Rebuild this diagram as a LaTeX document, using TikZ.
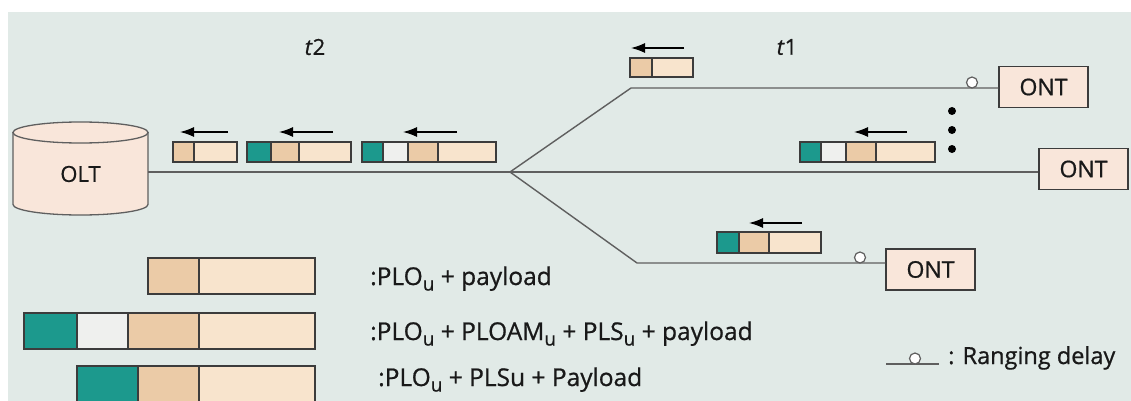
\documentclass[tikz,border=0pt]{standalone}
\usepackage{fontspec}
\setmainfont{Open Sans}[FakeBold=0.8]
\usetikzlibrary{arrows.meta}

\definecolor{bgc}{RGB}{225,234,231}
\definecolor{tealc}{RGB}{28,153,141}
\definecolor{whitec}{RGB}{239,240,238}
\definecolor{ploc}{RGB}{235,203,167}
\definecolor{payc}{RGB}{248,228,205}
\definecolor{boxc}{RGB}{249,230,218}
\definecolor{edgec}{RGB}{60,60,60}
\definecolor{linec}{RGB}{95,95,95}
\definecolor{txtc}{RGB}{25,25,25}

% lowered subscript as used in the frame labels
\newcommand\lsub[1]{\raisebox{-5.5pt}{\fontsize{19}{19}\selectfont #1}}
% one coloured field of a burst: x-left, x-right, y-top, y-bottom, colour
\newcommand\field[5]{\filldraw[cellbox,fill=#5] (#1,#3) rectangle (#2,#4);}

\begin{document}
\begin{tikzpicture}[x=1pt,y=-1pt,
  cellbox/.style={draw=edgec,line width=1.2pt},
  fiber/.style={draw=linec,line width=1.4pt},
  movearrow/.style={draw=black,line width=1.3pt,-{Latex[length=14pt,width=10pt]}},
  ontbox/.style={draw=edgec,line width=1.3pt,fill=boxc,minimum width=89pt,minimum height=41pt,
    inner sep=0pt,text=txtc,font=\fontsize{23}{23}\selectfont},
  delay/.style={circle,draw=linec,line width=1.2pt,fill=white,minimum size=11pt,inner sep=0pt},
  dotmark/.style={circle,fill=black,minimum size=8pt,inner sep=0pt},
  legend/.style={anchor=base west,inner sep=0pt,text=txtc,font=\fontsize{24.5}{24.5}\selectfont},
  tlabel/.style={text=txtc,font=\fontsize{22}{22}\selectfont}]
\useasboundingbox (0,0) rectangle (1131,401);
\clip (0,0) rectangle (1131,401);
\fill[white] (0,0) rectangle (1131,401);
\fill[bgc] (8,12) rectangle (1131,401);

% time labels
\node[tlabel] (t2) at (315,47) {\textit{t}2};
\node[tlabel] (t1) at (787,47) {\textit{t}1};

% OLT drum
\filldraw[fill=boxc,draw=linec,line width=1.3pt]
  (13,132.5) -- (13,204.5) arc[start angle=180,end angle=0,x radius=67.5,y radius=10.5]
  -- (148,132.5) -- cycle;
\filldraw[fill=boxc,draw=linec,line width=1.3pt] (80.5,132.5) ellipse[x radius=67.5,y radius=10.5];
\node[minimum width=135pt,minimum height=60pt,inner sep=0pt,text=txtc,
  font=\fontsize{22}{22}\selectfont] (olt) at (80.5,174) {OLT};

% ONTs
\node[ontbox] (ont1) at (1043.5,87) {ONT};
\node[ontbox] (ont2) at (1083.5,169) {ONT};
\node[ontbox] (ont3) at (930.5,269.5) {ONT};

% splitter and drop fibres
\coordinate (split) at (510,172);
\coordinate (bend1) at (631,88);
\coordinate (bend3) at (637,263);
\draw[fiber] (olt.east |- split) -- (split) -- (ont2.west |- split);
\draw[fiber] (split) -- (bend1) -- (bend1 -| ont1.west);
\draw[fiber] (split) -- (bend3) -- (bend3 -| ont3.west);
\node[delay] (d1) at (972,82.5) {};
\node[delay] (d3) at (860,257.5) {};

% more ONTs
\node[dotmark] (v1) at (952,111) {};
\node[dotmark] (v2) at (952,130) {};
\node[dotmark] (v3) at (952,149) {};

% bursts on the trunk
\field{173}{194}{142}{162}{ploc}
\field{194}{237}{142}{162}{payc}
\field{247}{271}{142}{162}{tealc}
\field{271}{299}{142}{162}{ploc}
\field{299}{351}{142}{162}{payc}
\field{362}{383}{142}{162}{tealc}
\field{383}{408}{142}{162}{whitec}
\field{408}{438}{142}{162}{ploc}
\field{438}{496}{142}{162}{payc}
\draw[movearrow] (228,132) -- (180,132);
\draw[movearrow] (333,132) -- (279,132);
\draw[movearrow] (457,132) -- (403,132);

% bursts on the drops
\field{630}{652}{58}{77}{ploc}
\field{652}{693}{58}{77}{payc}
\draw[movearrow] (684,48) -- (631,48);

\field{800}{821}{142}{162}{tealc}
\field{821}{846}{142}{162}{whitec}
\field{846}{876}{142}{162}{ploc}
\field{876}{935}{142}{162}{payc}
\draw[movearrow] (907,132) -- (854,132);

\field{717}{739}{232}{253}{tealc}
\field{739}{769}{232}{253}{ploc}
\field{769}{821}{232}{253}{payc}
\draw[movearrow] (802,223) -- (749,223);

% legend
\field{148}{199}{258}{294}{ploc}
\field{199}{315}{258}{294}{payc}
\node[legend] (l1) at (370,285) {:PLO\lsub{u} + payload};

\field{24}{77}{313}{349}{tealc}
\field{77}{128}{313}{349}{whitec}
\field{128}{199}{313}{349}{ploc}
\field{199}{315}{313}{349}{payc}
\node[legend] (l2) at (370,340) {:PLO\lsub{u} + PLOAM\lsub{u} + PLS\lsub{u} + payload};

\field{77}{138}{366}{404}{tealc}
\field{138}{199}{366}{404}{ploc}
\field{199}{315}{366}{404}{payc}
\node[legend] (l3) at (378,386) {:PLO\lsub{u} + PLSu + Payload};

% ranging delay key
\coordinate (k1) at (886,364);
\coordinate (k2) at (939,364);
\draw[draw=linec,line width=1.2pt] (k1) -- (k2);
\node[delay] (kd) at (915,358.5) {};
\node[legend,font=\fontsize{23.5}{23.5}\selectfont] (kt) at (948,364) {: Ranging delay};
\end{tikzpicture}
\end{document}
